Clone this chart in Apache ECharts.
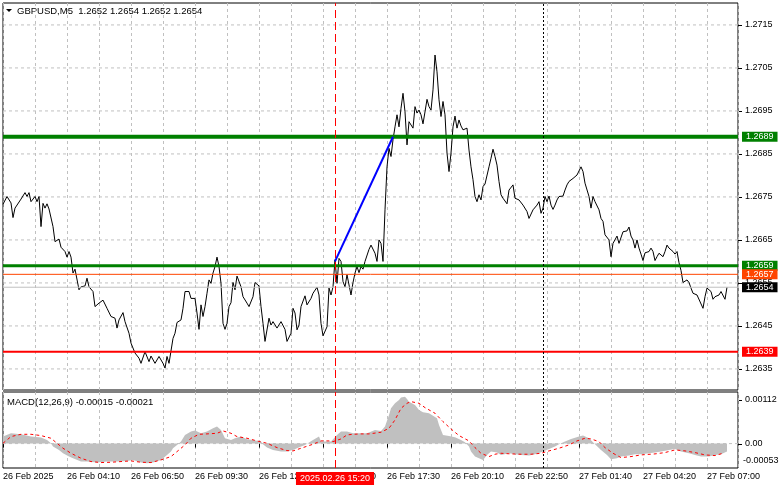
<!DOCTYPE html>
<html><head><meta charset="utf-8">
<script src="https://cdn.jsdelivr.net/npm/echarts@6/dist/echarts.min.js"></script>
<style>html,body{margin:0;padding:0;background:#fff}#c{width:781px;height:489px}</style>
</head><body><div id="c"></div>
<script>
// ---------- data ----------
const symbolTitle = 'GBPUSD,M5  1.2652 1.2654 1.2652 1.2654';
const macdTitle = 'MACD(12,26,9) -0.00015 -0.00021';
// time labels every 32 bars (M5 bars)
const timeLabels = ['26 Feb 2025','26 Feb 04:10','26 Feb 06:50','26 Feb 09:30','26 Feb 12:10','26 Feb 14:50',
  '26 Feb 17:30','26 Feb 20:10','26 Feb 22:50','27 Feb 01:40','27 Feb 04:20','27 Feb 07:00'];
const priceTicks = [1.2635,1.2645,1.2655,1.2665,1.2675,1.2685,1.2695,1.2705,1.2715];
// [bar index, close]
const closeByBar = [
 [0,1.26733],[2,1.26751],[4,1.26736],[5,1.26702],[6,1.26724],[9,1.26745],[11,1.26760],[12,1.26751],[13,1.26760],[14,1.26739],
 [16,1.26751],[17,1.26739],[18,1.26751],[19,1.26681],[20,1.26735],[21,1.26724],[22,1.26734],[23,1.26722],[24,1.26722],[25,1.26681],
 [26,1.26646],[27,1.26650],[28,1.26652],[29,1.26633],[31,1.26623],[32,1.26610],[33,1.26623],[34,1.26610],[35,1.26573],[36,1.26582],
 [37,1.26580],[38,1.26534],[39,1.26541],[41,1.26543],[42,1.26561],[43,1.26541],[45,1.26530],[46,1.26495],[48,1.26503],[50,1.26510],
 [52,1.26491],[53,1.26487],[54,1.26472],[56,1.26468],[57,1.26445],[58,1.26464],[60,1.26481],[61,1.26460],[63,1.26433],[64,1.26410],
 [66,1.26387],[68,1.26375],[69,1.26363],[71,1.26390],[73,1.26367],[74,1.26380],[76,1.26363],[78,1.26379],[79,1.26383],[80,1.26363],
 [81,1.26352],[82,1.26379],[83,1.26363],[84,1.26361],[85,1.26421],[86,1.26433],[87,1.26458],[89,1.26464],[90,1.26491],[91,1.26530],
 [93,1.26530],[94,1.26514],[96,1.26514],[97,1.26480],[98,1.26442],[99,1.26499],[100,1.26472],[101,1.26495],[102,1.26526],[103,1.26557],
 [104,1.26549],[105,1.26573],[106,1.26588],[107,1.26610],[108,1.26588],[109,1.26549],[110,1.26456],[111,1.26442],[112,1.26456],[113,1.26495],
 [114,1.26504],[115,1.26551],[116,1.26534],[117,1.26566],[118,1.26569],[119,1.26541],[120,1.26518],[121,1.26522],[122,1.26503],[123,1.26495],
 [125,1.26518],[126,1.26551],[128,1.26543],[129,1.26495],[130,1.26456],[131,1.26414],[133,1.26468],[134,1.26452],[135,1.26460],[137,1.26445],
 [139,1.26460],[140,1.26460],[141,1.26442],[142,1.26414],[144,1.26433],[145,1.26491],[146,1.26480],[147,1.26441],[148,1.26452],[149,1.26495],
 [151,1.26520],[152,1.26499],[154,1.26514],[155,1.26526],[157,1.26540],[158,1.26522],[159,1.26456],[160,1.26427],[161,1.26425],[162,1.26448],
 [163,1.26538],[164,1.26522],[165,1.26541],[166,1.26604],[167,1.26549],[168,1.26607],[169,1.26600],[170,1.26553],[171,1.26541],[172,1.26569],
 [173,1.26569],[174,1.26522],[175,1.26551],[176,1.26573],[177,1.26588],[178,1.26574],[179,1.26588],[180,1.26582],[181,1.26600],[183,1.26628],
 [184,1.26638],[185,1.26641],[186,1.26619],[187,1.26600],[188,1.26650],[189,1.26642],[190,1.26600],[191,1.26720],[192,1.26820],[193,1.26863],
 [194,1.26844],[195,1.26883],[196,1.26913],[197,1.26941],[198,1.26913],[199,1.26956],[200,1.26991],[201,1.26948],[202,1.26871],[203,1.26925],
 [204,1.26929],[205,1.26910],[206,1.26960],[207,1.26945],[208,1.26952],[209,1.26941],[210,1.26920],[211,1.26948],[212,1.26977],[213,1.26960],
 [214,1.26952],[215,1.26999],[216,1.27080],[217,1.27041],[218,1.26976],[219,1.26937],[220,1.26972],[221,1.26941],[222,1.26852],[223,1.26809],
 [224,1.26852],[225,1.26913],[226,1.26938],[227,1.26910],[228,1.26929],[229,1.26915],[230,1.26906],[231,1.26906],[232,1.26910],[233,1.26859],
 [234,1.26820],[235,1.26790],[236,1.26751],[237,1.26739],[238,1.26755],[239,1.26743],[240,1.26774],[241,1.26780],[242,1.26778],[243,1.26820],
 [244,1.26840],[245,1.26861],[246,1.26844],[247,1.26824],[248,1.26786],[249,1.26755],[250,1.26747],[251,1.26751],[252,1.26734],[253,1.26766],
 [254,1.26768],[255,1.26778],[256,1.26747],[257,1.26751],[258,1.26743],[260,1.26731],[262,1.26716],[263,1.26700],[264,1.26704],[265,1.26720],
 [267,1.26731],[268,1.26739],[269,1.26712],[270,1.26724],[271,1.26751],[272,1.26739],[273,1.26752],[274,1.26731],[275,1.26721],[276,1.26731],
 [277,1.26743],[278,1.26751],[280,1.26752],[281,1.26766],[282,1.26778],[283,1.26786],[285,1.26793],[286,1.26791],[287,1.26801],[288,1.26797],
 [289,1.26820],[290,1.26809],[291,1.26782],[293,1.26751],[294,1.26724],[295,1.26751],[296,1.26739],[298,1.26720],[299,1.26700],[300,1.26693],
 [301,1.26662],[303,1.26650],[304,1.26611],[305,1.26642],[307,1.26659],[308,1.26642],[309,1.26641],[310,1.26669],[312,1.26671],[313,1.26680],
 [314,1.26659],[315,1.26650],[316,1.26631],[317,1.26650],[318,1.26631],[319,1.26617],[320,1.26602],[321,1.26620],[322,1.26620],[323,1.26623],
 [324,1.26631],[325,1.26623],[326,1.26602],[327,1.26611],[328,1.26619],[329,1.26620],[330,1.26611],[331,1.26623],[332,1.26638],[333,1.26631],
 [334,1.26627],[335,1.26623],[336,1.26617],[337,1.26623],[338,1.26597],[339,1.26579],[340,1.26551],[341,1.26551],[342,1.26557],[343,1.26551],
 [344,1.26538],[345,1.26526],[347,1.26522],[348,1.26518],[350,1.26491],[351,1.26518],[352,1.26538],[353,1.26541],[354,1.26530],[355,1.26512],
 [356,1.26518],[357,1.26522],[358,1.26522],[359,1.26530],[360,1.26526],[361,1.26512],[362,1.26540]
];
// MACD histogram [bar, value]
const macdHist = [
 [0,15.2e-5],[4,22.4e-5],[9,20.2e-5],[14,15.2e-5],[19,13.0e-5],[22,8.0e-5],[24,0.7e-5],[25,-6.5e-5],[28,-13.7e-5],[30,-21.0e-5],
 [33,-28.2e-5],[35,-31.8e-5],[39,-39.0e-5],[42,-39.0e-5],[47,-41.2e-5],[52,-39.0e-5],[57,-39.0e-5],[62,-37.6e-5],[65,-35.4e-5],[69,-41.2e-5],
 [72,-42.7e-5],[75,-41.2e-5],[79,-35.4e-5],[82,-24.6e-5],[84,-17.4e-5],[85,-10.1e-5],[87,-2.9e-5],[89,4.3e-5],[91,18.8e-5],[94,26.0e-5],
 [96,28.2e-5],[99,22.4e-5],[102,26.0e-5],[105,33.3e-5],[107,36.9e-5],[109,29.6e-5],[111,11.6e-5],[114,8.0e-5],[116,11.6e-5],[119,15.2e-5],
 [122,9.4e-5],[125,8.0e-5],[129,4.3e-5],[130,-1.4e-5],[132,-8.7e-5],[135,-13.7e-5],[139,-17.4e-5],[142,-17.4e-5],[145,-13.7e-5],[149,-6.5e-5],
 [151,-2.9e-5],[153,2.2e-5],[155,8.0e-5],[158,15.2e-5],[159,4.3e-5],[164,4.3e-5],[165,0.7e-5],[167,18.8e-5],[169,26.0e-5],[172,26.0e-5],
 [175,22.4e-5],[179,22.4e-5],[182,22.4e-5],[183,26.0e-5],[186,29.6e-5],[189,27.5e-5],[191,36.9e-5],[193,62.2e-5],[194,76.6e-5],[196,87.5e-5],
 [198,94.7e-5],[199,99.8e-5],[201,101.9e-5],[202,96.9e-5],[203,91.1e-5],[206,83.9e-5],[208,73.0e-5],[210,68.0e-5],[213,65.8e-5],[215,60.7e-5],
 [217,54.9e-5],[218,40.5e-5],[220,18.8e-5],[223,16.6e-5],[226,13.7e-5],[229,8.0e-5],[231,2.9e-5],[233,-6.5e-5],[234,-17.4e-5],[236,-28.2e-5],
 [238,-31.8e-5],[240,-35.4e-5],[242,-24.6e-5],[244,-17.4e-5],[247,-19.5e-5],[249,-24.6e-5],[253,-21.0e-5],[256,-23.1e-5],[259,-24.6e-5],[263,-26.0e-5],
 [266,-23.1e-5],[269,-18.8e-5],[273,-11.6e-5],[276,-6.5e-5],[278,-1.4e-5],[281,4.3e-5],[284,10.1e-5],[288,15.2e-5],[290,17.4e-5],[293,11.6e-5],
 [296,-1.4e-5],[299,-13.7e-5],[302,-24.6e-5],[304,-34.0e-5],[307,-31.8e-5],[309,-28.2e-5],[313,-26.0e-5],[316,-23.1e-5],[319,-23.1e-5],[323,-21.0e-5],
 [326,-19.5e-5],[329,-17.4e-5],[333,-13.7e-5],[336,-11.6e-5],[339,-17.4e-5],[343,-21.0e-5],[346,-24.6e-5],[349,-28.2e-5],[353,-28.2e-5],[356,-24.6e-5],
 [359,-23.1e-5],[362,-17.4e-5]
];
// MACD signal [bar, value]
const macdSignal = [
 [0,0.7e-5],[4,15.2e-5],[9,20.2e-5],[14,20.2e-5],[19,17.4e-5],[24,11.6e-5],[27,0.7e-5],[30,-10.1e-5],[34,-21.0e-5],[39,-31.8e-5],
 [44,-39.0e-5],[49,-41.2e-5],[54,-40.5e-5],[59,-39.0e-5],[64,-37.6e-5],[69,-40.5e-5],[74,-41.2e-5],[79,-35.4e-5],[84,-28.2e-5],[87,-17.4e-5],
 [91,-2.9e-5],[94,11.6e-5],[98,20.2e-5],[102,21.0e-5],[107,22.4e-5],[110,27.5e-5],[114,22.4e-5],[117,15.2e-5],[122,11.6e-5],[127,5.8e-5],
 [132,0.7e-5],[137,-8.7e-5],[142,-15.2e-5],[145,-15.9e-5],[150,-8.7e-5],[155,-1.4e-5],[159,5.8e-5],[163,5.8e-5],[165,4.3e-5],[169,10.1e-5],
 [172,18.8e-5],[175,20.2e-5],[179,21.0e-5],[183,21.0e-5],[189,24.6e-5],[193,33.3e-5],[196,51.3e-5],[199,76.6e-5],[202,87.5e-5],[204,91.1e-5],
 [208,87.5e-5],[211,78.1e-5],[216,65.8e-5],[220,47.7e-5],[224,31.8e-5],[228,17.4e-5],[233,5.8e-5],[236,-8.7e-5],[239,-21.0e-5],[243,-28.2e-5],
 [246,-23.1e-5],[249,-21.0e-5],[254,-22.4e-5],[259,-23.1e-5],[264,-23.1e-5],[269,-21.0e-5],[273,-15.9e-5],[278,-10.1e-5],[283,-2.9e-5],[287,5.8e-5],
 [291,11.6e-5],[294,10.1e-5],[298,4.3e-5],[301,-8.7e-5],[305,-21.0e-5],[309,-30.4e-5],[314,-28.2e-5],[319,-24.6e-5],[326,-22.4e-5],[331,-19.5e-5],
 [336,-13.7e-5],[341,-15.9e-5],[346,-19.5e-5],[351,-24.6e-5],[356,-26.0e-5],[360,-21.0e-5]
];
const levels = [1.2689, 1.2659, 1.2657, 1.2654, 1.2639];
const trendLine = [[166, 1.2660], [195, 1.2689]];
const signalBar = 166;
const signalLabel = '2025.02.26 15:20';
const dayBreakBar = 270;
const macdTicks = [0.00112, 0, -0.00053];
const macdTickLabels = ['0.00112', '0.00', '-0.00053'];
const barRange = [0, 367.5];

// ---------- styles ----------
const FONT = 'Liberation Sans';
const CSSFONT = '9px "Liberation Sans", Arial, sans-serif';
const gridLineStyle = {color:'#c0c0c0', type:[3,3], width:1};
const levelStyles = [
  {line:'#008000', width:4, box:'#008000'},
  {line:'#008000', width:3, box:'#008000'},
  {line:'#ff4500', width:1, box:'#ff4500'},
  {line:'#c0c0c0', width:1, box:'#000000'},
  {line:'#ff0000', width:2, box:'#ff0000'}
];

function timeFormatter(v){
  const i = Math.round(v/32);
  return (Math.abs(v - i*32) < 1e-6 && i >= 0 && i < timeLabels.length) ? timeLabels[i] : '';
}
function xAxisCfg(gridIndex, showLabels){
  return {
    type:'value', gridIndex:gridIndex, min:barRange[0], max:barRange[1], interval:32,
    axisLine:{show:false},
    axisTick:{show:showLabels, length:4, lineStyle:{color:'#000'}},
    axisLabel:{show:showLabels, formatter:timeFormatter, align:'left', color:'#000', fontSize:9, fontFamily:FONT, margin:4, showMaxLabel:false, showMinLabel:true},
    splitLine:{show:true, lineStyle:gridLineStyle},
    minorTick:{show:false, splitNumber:2},
    minorSplitLine:{show:true, lineStyle:gridLineStyle}
  };
}
const noEmph = {disabled:true};

// horizontal line across the panel, drawn as a 2-point series, labelled at its right end
function hLine(value, axisIdx, lineStyle, label, z){
  return {
    type:'line', xAxisIndex:axisIdx, yAxisIndex:axisIdx, z:z, silent:true, symbol:'none', clip:false,
    data:[[barRange[0], value],[barRange[1], value]],
    lineStyle:lineStyle, emphasis:noEmph,
    endLabel:Object.assign({show:true, distance:4, fontSize:9, fontFamily:FONT, color:'#000', verticalAlign:'middle', align:'left'}, label)
  };
}

const series = [];
priceTicks.forEach(v => series.push(hLine(v, 0, gridLineStyle, {formatter:v.toFixed(4), distance:7}, 1)));
series.push({
  type:'line', xAxisIndex:0, yAxisIndex:0, data:closeByBar, z:1, silent:true, symbol:'none',
  lineStyle:{color:'rgba(0,0,0,0)', width:0}, emphasis:noEmph,
  markLine:{silent:true, symbol:['none','none'], animation:false, emphasis:noEmph, label:{show:false},
    data:[{xAxis:signalBar, lineStyle:{color:'#ff0000', type:[8,4], width:1}},
          {xAxis:dayBreakBar, lineStyle:{color:'#000000', type:[2,2], width:1}}]}
});
series.push({type:'line', xAxisIndex:0, yAxisIndex:0, data:closeByBar, z:3, symbol:'none', silent:true,
  lineStyle:{color:'#000', width:1}, emphasis:noEmph});
levels.forEach((v,i) => series.push(hLine(v, 0, {color:levelStyles[i].line, width:levelStyles[i].width, type:'solid'},
  {formatter:v.toFixed(4), color:'#fff', backgroundColor:levelStyles[i].box, padding:[1,4,0,4], lineHeight:9}, 4 + i*0.01)));
series.push({type:'line', xAxisIndex:0, yAxisIndex:0, data:trendLine, z:6, symbol:'none', silent:true,
  lineStyle:{color:'#0000ff', width:2}, emphasis:noEmph});
series.push({type:'line', xAxisIndex:1, yAxisIndex:1, data:macdHist, z:2, symbol:'none', silent:true,
  lineStyle:{width:0, color:'#c0c0c0'}, areaStyle:{color:'#c0c0c0', opacity:1}, emphasis:noEmph});
series.push({type:'line', xAxisIndex:1, yAxisIndex:1, data:macdSignal, z:4, symbol:'none', silent:true,
  lineStyle:{color:'#ff0000', width:1, type:[3,3]}, emphasis:noEmph});
series.push(hLine(macdTicks[1], 1, gridLineStyle, {formatter:macdTickLabels[1], distance:7}, 1));
series.push({
  type:'line', xAxisIndex:1, yAxisIndex:1, data:macdSignal, z:5, silent:true, symbol:'none',
  lineStyle:{color:'rgba(0,0,0,0)', width:0}, emphasis:noEmph,
  markLine:{silent:true, symbol:['none','none'], animation:false, emphasis:noEmph,
    data:[{xAxis:signalBar, lineStyle:{color:'#ff0000', type:[8,4], width:1},
           label:{show:true, position:'start', distance:4, formatter:signalLabel, color:'#fff', backgroundColor:'#ff0000', padding:[2,4,1,4], lineHeight:10, fontSize:9, fontFamily:FONT}},
          {xAxis:dayBreakBar, lineStyle:{color:'#000000', type:[2,2], width:1}, label:{show:false}}]}
});

const baseGraphic = [
  {type:'polygon', shape:{points:[[6,9],[12,9],[9,12]]}, style:{fill:'#000'}},
  {type:'text', x:17, y:11, style:{text:symbolTitle, fill:'#000', font:'9.5px "Liberation Sans", Arial, sans-serif', verticalAlign:'middle'}},
  {type:'text', x:7, y:402, style:{text:macdTitle, fill:'#000', font:'9.5px "Liberation Sans", Arial, sans-serif', verticalAlign:'middle'}}
];

const option = {
  animation:false,
  backgroundColor:'#ffffff',
  grid:[
    {left:3, right:43, top:3, height:387, show:true, borderColor:'#000', borderWidth:1},
    {left:3, right:43, top:392, height:76, show:true, borderColor:'#000', borderWidth:1}
  ],
  xAxis:[xAxisCfg(0,false), xAxisCfg(1,true)],
  yAxis:[
    {type:'value', gridIndex:0, min:1.26301, max:1.27201, show:false},
    {type:'value', gridIndex:1, min:-0.00053, max:0.00112, show:false}
  ],
  graphic:baseGraphic,
  series:series
};
const chart = echarts.init(document.getElementById('c'), null, {renderer:'canvas', width:781, height:489});
chart.setOption(option);

// right-scale tick marks and the MACD window's top/bottom scale labels (MT4 draws them inset)
const extra = [];
priceTicks.forEach(v => {
  const p = chart.convertToPixel({xAxisIndex:0, yAxisIndex:0}, [barRange[1], v]);
  extra.push({type:'line', shape:{x1:p[0], y1:Math.round(p[1])+0.5, x2:p[0]+4, y2:Math.round(p[1])+0.5}, style:{stroke:'#000', lineWidth:1}});
});
const pTop = chart.convertToPixel({xAxisIndex:1, yAxisIndex:1}, [barRange[1], macdTicks[0]]);
const pZero = chart.convertToPixel({xAxisIndex:1, yAxisIndex:1}, [barRange[1], macdTicks[1]]);
const pBot = chart.convertToPixel({xAxisIndex:1, yAxisIndex:1}, [barRange[1], macdTicks[2]]);
extra.push({type:'text', x:pTop[0]+7, y:pTop[1]+8, style:{text:macdTickLabels[0], fill:'#000', font:CSSFONT, verticalAlign:'middle'}});
extra.push({type:'text', x:pBot[0]+5, y:pBot[1]-7, style:{text:macdTickLabels[2], fill:'#000', font:CSSFONT, verticalAlign:'middle'}});
[pTop[1]+8, pZero[1]].forEach(y => extra.push({type:'line', shape:{x1:pTop[0], y1:Math.round(y)+0.5, x2:pTop[0]+4, y2:Math.round(y)+0.5}, style:{stroke:'#000', lineWidth:1}}));
chart.setOption({graphic: baseGraphic.concat(extra)});
</script>
</body></html>
